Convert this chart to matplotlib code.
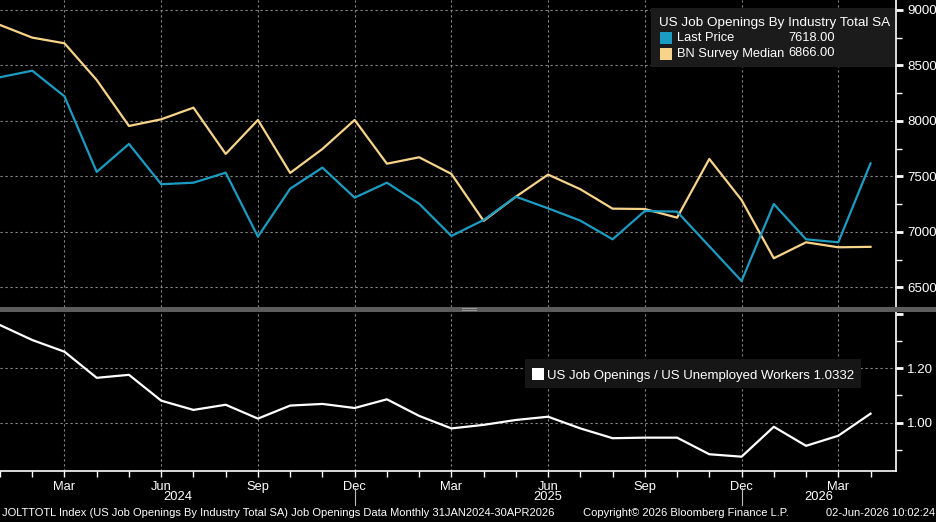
import matplotlib
matplotlib.use("Agg")
import matplotlib.pyplot as plt
import matplotlib.transforms as mtransforms
from matplotlib.patches import Rectangle
import numpy as np

# ---------------- data ----------------
months = ["2024-01", "2024-02", "2024-03", "2024-04", "2024-05", "2024-06", "2024-07",
          "2024-08", "2024-09", "2024-10", "2024-11", "2024-12", "2025-01", "2025-02",
          "2025-03", "2025-04", "2025-05", "2025-06", "2025-07", "2025-08", "2025-09",
          "2025-10", "2025-11", "2025-12", "2026-01", "2026-02", "2026-03", "2026-04"]

last_price = [8394, 8453, 8222, 7541, 7793, 7430, 7444, 7534, 6958, 7390, 7580, 7309,
              7444, 7255, 6964, 7108, 7318, 7213, 7102, 6934, 7189, 7183, None, 6558,
              7252, 6934, 6907, 7618]

survey_median = [8865, 8751, 8700, 8369, 7955, 8015, 8120, 7703, 8009, 7532, 7748, 8009,
                 7615, 7673, 7523, 7100, 7318, 7517, 7385, 7210, 7207, 7129, 7658, 7288,
                 6763, 6907, 6862, 6866]

ratio = [1.359, 1.304, 1.261, 1.165, 1.176, 1.081, 1.047, 1.066, 1.015, 1.063, 1.069, 1.054,
         1.086, 1.025, 0.979, 0.992, 1.010, 1.022, 0.979, 0.943, 0.945, 0.945, 0.884, 0.875,
         0.985, 0.915, 0.952, 1.0332]

month_tick_labels = ["Mar", "Jun", "Sep", "Dec", "Mar", "Jun", "Sep", "Dec", "Mar"]
month_tick_months = ["2024-03", "2024-06", "2024-09", "2024-12", "2025-03", "2025-06",
                     "2025-09", "2025-12", "2026-03"]
year_labels = ["2024", "2025", "2026"]

upper_title = "US Job Openings By Industry Total SA"
upper_names = ["Last Price", "BN Survey Median"]
upper_values = ["7618.00", "6866.00"]
lower_legend = "US Job Openings / US Unemployed Workers 1.0332"
footer_left = ("JOLTTOTL Index (US Job Openings By Industry Total SA) Job Openings Data "
               "Monthly 31JAN2024-30APR2026")
footer_mid = "Copyright\u00a9 2026 Bloomberg Finance L.P."
footer_right = "02-Jun-2026 10:02:24"

# ---------------- style ----------------
BLUE = "#1b9cc2"
YELLOW = "#f8d48a"
GRID = "#8a8a8a"
W, H = 937, 522
FONT = ["Liberation Sans", "DejaVu Sans"]
plt.rcParams["font.family"] = FONT

fig = plt.figure(figsize=(W / 100, H / 100), dpi=100, facecolor="black")


def fx(x):
    return x / W


def fy(y):
    return 1 - y / H


x_idx = np.arange(len(months))
xmax = 27.79

# upper axes: pixel rows 0..307, cols 0..896
ax1 = fig.add_axes([0, fy(307), fx(896), 307 / H], facecolor="black")
# lower axes: rows 312..471
ax2 = fig.add_axes([0, fy(471), fx(896), (471 - 312) / H], facecolor="black")

grid_kw = dict(color=GRID, lw=0.8, linestyle=(0, (2, 2.5)))
tick_pos = [months.index(m) for m in month_tick_months]

for ax in (ax1, ax2):
    ax.set_xlim(0, xmax)
    for s in ("left", "top"):
        ax.spines[s].set_visible(False)
    ax.spines["right"].set_color("white")
    ax.spines["right"].set_linewidth(1.2)
    ax.yaxis.tick_right()
    ax.tick_params(axis="y", which="major", direction="out", length=5, width=2,
                   colors="white", labelsize=9.6, pad=3)
    ax.tick_params(axis="y", which="minor", direction="out", length=4, width=1,
                   colors="white")
    for xv in tick_pos:
        ax.axvline(xv, **grid_kw, zorder=0)

# ---- upper panel ----
ax1.spines["bottom"].set_visible(False)
ax1.set_ylim(6324, 9090)
upper_major = [6500, 7000, 7500, 8000, 8500, 9000]
ax1.set_yticks(upper_major)
ax1.set_yticklabels([str(v) for v in upper_major])
ax1.set_yticks([6750, 7250, 7750, 8250, 8750], minor=True)
ax1.set_xticks([])
for yv in upper_major:
    ax1.axhline(yv, **grid_kw, zorder=0)

lp = np.array([np.nan if v is None else v for v in last_price], dtype=float)
mask = ~np.isnan(lp)
ax1.plot(x_idx, survey_median, color=YELLOW, lw=1.6, zorder=3)
ax1.plot(x_idx[mask], lp[mask], color=BLUE, lw=1.6, zorder=4)

# upper legend (manual)
fig.patches.append(Rectangle((fx(651), fy(67)), fx(895) - fx(651), (67 - 8) / H,
                             transform=fig.transFigure, facecolor="#1b1b1b",
                             edgecolor="none", zorder=5))
fig.text(fx(659), fy(23), upper_title, color="white", fontsize=9.7, va="center",
         ha="left", zorder=6)
for i, (nm, val, col) in enumerate(zip(upper_names, upper_values, [BLUE, YELLOW])):
    yc = 38 + i * 15.5
    fig.patches.append(Rectangle((fx(660), fy(yc + 6)), fx(12), 12 / H,
                                 transform=fig.transFigure, facecolor=col,
                                 edgecolor="none", zorder=6))
    fig.text(fx(677), fy(yc), nm, color="white", fontsize=9.3, va="center",
             ha="left", zorder=6)
    fig.text(fx(835), fy(yc), val, color="white", fontsize=9.3, va="center",
             ha="right", zorder=6)

# ---- lower panel ----
ax2.spines["bottom"].set_color("white")
ax2.spines["bottom"].set_linewidth(1.2)
ax2.set_ylim(0.8224, 1.407)
lower_major = [1.0, 1.2, 1.4]
ax2.set_yticks(lower_major)
ax2.set_yticklabels(["1.00", "1.20", ""])
ax2.set_yticks([0.9, 1.1, 1.3], minor=True)
for yv in [1.0, 1.2]:
    ax2.axhline(yv, **grid_kw, zorder=0)
ax2.plot(x_idx, ratio, color="white", lw=1.6, zorder=3)

ax2.set_xticks(tick_pos)
ax2.set_xticklabels(month_tick_labels)
ax2.set_xticks(x_idx, minor=True)
ax2.tick_params(axis="x", which="both", direction="out", length=4, width=1,
                colors="white", labelsize=9.3, pad=3)

# lower legend
fig.patches.append(Rectangle((fx(525), fy(388)), fx(861) - fx(525), (388 - 359) / H,
                             transform=fig.transFigure, facecolor="#161616",
                             edgecolor="none", zorder=5))
fig.patches.append(Rectangle((fx(532), fy(380)), fx(12), 12 / H,
                             transform=fig.transFigure, facecolor="white",
                             edgecolor="none", zorder=6))
fig.text(fx(547), fy(375.5), lower_legend, color="white", fontsize=9.55, va="center",
         ha="left", zorder=6)

# year labels and separators
btrans = mtransforms.blended_transform_factory(ax2.transData, fig.transFigure)
year_bounds = [(0, months.index("2024-12")), (months.index("2024-12"), months.index("2025-12")),
               (months.index("2025-12"), xmax)]
for lab, (a, b) in zip(year_labels, year_bounds):
    fig.text((a + b) / 2, fy(497), lab, transform=btrans, color="white", fontsize=9.3,
             ha="center", va="center")
for m in ["2024-12", "2025-12"]:
    xv = months.index(m)
    fig.add_artist(plt.Line2D([xv, xv], [fy(488), fy(505)], transform=btrans,
                              color="#bbbbbb", lw=0.8))

# separator bar between panels
fig.patches.append(Rectangle((0, fy(312)), 1, 5 / H, transform=fig.transFigure,
                             facecolor="#5c5c5c", edgecolor="none", zorder=7))
for yy in (308.3, 310.3):
    fig.add_artist(plt.Line2D([fx(462), fx(476)], [fy(yy), fy(yy)],
                              transform=fig.transFigure, color="#9a9a9a", lw=0.7,
                              zorder=8))

# footer
fig.text(fx(2), fy(513), footer_left, color="white", fontsize=8.0,
         ha="left", va="center")
fig.text(fx(583), fy(513), footer_mid, color="white", fontsize=8.0,
         ha="left", va="center")
fig.text(fx(935), fy(513), footer_right, color="white", fontsize=8.0,
         ha="right", va="center")

fig.savefig("out.png", dpi=100, facecolor="black")
